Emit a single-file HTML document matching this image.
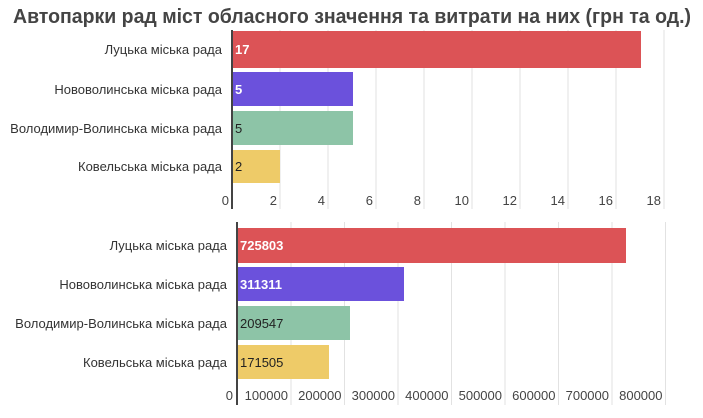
<!DOCTYPE html>
<html><head><meta charset="utf-8"><style>
body{margin:0;background:#fff;width:703px;height:413px;overflow:hidden}
svg{font-family:"Liberation Sans",sans-serif}
</style></head><body>
<svg width="703" height="413" viewBox="0 0 703 413">
<text x="352" y="23" text-anchor="middle" font-size="20" font-weight="bold" fill="#444" textLength="678" lengthAdjust="spacingAndGlyphs">Автопарки рад міст обласного значення та витрати на них (грн та од.)</text>
<g stroke="#e2e2e2" stroke-width="1">
<line x1="280" y1="30" x2="280" y2="209"/><line x1="328" y1="30" x2="328" y2="209"/><line x1="376" y1="30" x2="376" y2="209"/><line x1="424" y1="30" x2="424" y2="209"/><line x1="472" y1="30" x2="472" y2="209"/><line x1="520" y1="30" x2="520" y2="209"/><line x1="568" y1="30" x2="568" y2="209"/><line x1="616" y1="30" x2="616" y2="209"/><line x1="664" y1="30" x2="664" y2="209"/>
<line x1="291" y1="222" x2="291" y2="405"/><line x1="344.5" y1="222" x2="344.5" y2="405"/><line x1="398" y1="222" x2="398" y2="405"/><line x1="451.5" y1="222" x2="451.5" y2="405"/><line x1="505" y1="222" x2="505" y2="405"/><line x1="558.5" y1="222" x2="558.5" y2="405"/><line x1="612" y1="222" x2="612" y2="405"/><line x1="665.5" y1="222" x2="665.5" y2="405"/>
</g>
<rect x="232" y="31" width="409" height="37" fill="#dc5356"/>
<rect x="232" y="72" width="121" height="34" fill="#6b51dc"/>
<rect x="232" y="111" width="121" height="34" fill="#8dc4a7"/>
<rect x="232" y="150" width="48" height="33" fill="#eecb68"/>
<rect x="237" y="228" width="389" height="35" fill="#dc5356"/>
<rect x="237" y="267" width="167" height="34" fill="#6b51dc"/>
<rect x="237" y="306" width="113" height="34" fill="#8dc4a7"/>
<rect x="237" y="345" width="92" height="34" fill="#eecb68"/>
<line x1="232" y1="30" x2="232" y2="209" stroke="#444" stroke-width="2"/>
<line x1="237" y1="222" x2="237" y2="405" stroke="#444" stroke-width="2"/>
<g font-size="13" fill="#333" text-anchor="end">
<text x="222" y="54">Луцька міська рада</text>
<text x="222" y="94">Нововолинська міська рада</text>
<text x="222" y="133">Володимир-Волинська міська рада</text>
<text x="222" y="171">Ковельська міська рада</text>
<text x="227" y="250">Луцька міська рада</text>
<text x="227" y="289">Нововолинська міська рада</text>
<text x="227" y="328">Володимир-Волинська міська рада</text>
<text x="227" y="367">Ковельська міська рада</text>
</g>
<g font-size="13" font-weight="bold" fill="#fff">
<text x="235" y="54">17</text><text x="235" y="94">5</text>
<text x="240" y="250">725803</text><text x="240" y="289">311311</text>
</g>
<g font-size="13" fill="#222">
<text x="235" y="133">5</text><text x="235" y="171">2</text>
<text x="240" y="328">209547</text><text x="240" y="367">171505</text>
</g>
<g font-size="13" fill="#444" text-anchor="end">
<text x="229" y="205">0</text><text x="277" y="205">2</text><text x="325" y="205">4</text><text x="373" y="205">6</text><text x="421" y="205">8</text><text x="469" y="205">10</text><text x="517" y="205">12</text><text x="565" y="205">14</text><text x="613" y="205">16</text><text x="661" y="205">18</text>
<text x="233" y="400">0</text><text x="288" y="400">100000</text><text x="341.5" y="400">200000</text><text x="395" y="400">300000</text><text x="448.5" y="400">400000</text><text x="502" y="400">500000</text><text x="555.5" y="400">600000</text><text x="609" y="400">700000</text><text x="662.5" y="400">800000</text>
</g>
</svg>
</body></html>
